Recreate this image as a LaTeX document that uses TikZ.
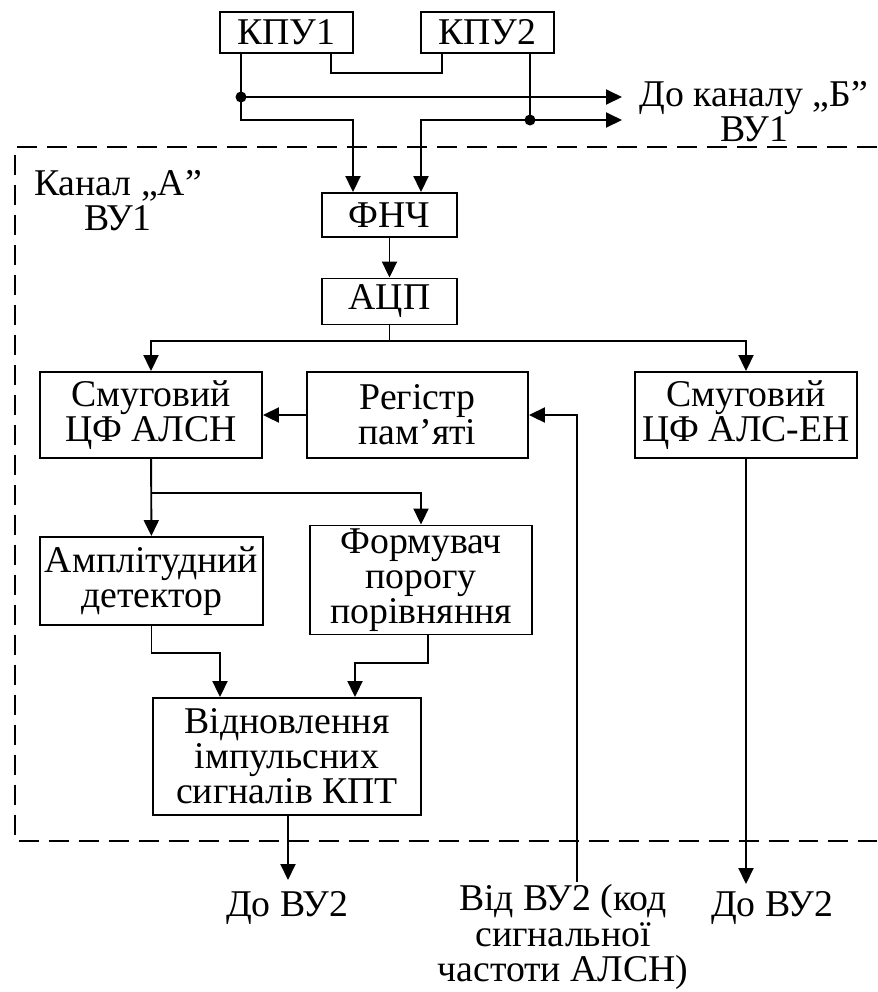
\documentclass[tikz,border=0pt]{standalone}
\usepackage{fontspec}
\setmainfont{Liberation Serif}
\newfontfamily\shryft{Liberation Serif}
\usetikzlibrary{arrows.meta}
\begin{document}
\begin{tikzpicture}[x=0.02cm,y=-0.02cm]

	\tikzset{
	  every node/.style={font=\shryft\fontsize{21.5}{20}\selectfont},
	  blok/.style={draw, line width=1.1pt, align=center, inner sep=0pt},
	  liniya/.style={line width=1.1pt},
	  strilka/.style={liniya, -{Triangle[length=0.32cm,width=0.3cm]}},
	  napys/.style={align=center, inner sep=0pt},
	}
	\useasboundingbox (0,0) rectangle (877,992);
	% bloky
	\node[blok, minimum width=2.66cm, minimum height=0.82cm] (kpu1) at (286.5,32.5) {КПУ1};
	\node[blok, minimum width=2.66cm, minimum height=0.82cm] (kpu2) at (487.5,32.5) {КПУ2};
	\node[blok, minimum width=2.7cm, minimum height=0.88cm] (fnch) at (389.5,215) {ФНЧ};
	\node[blok, minimum width=2.7cm, minimum height=0.92cm] (acp) at (389.5,301.5) {АЦП};
	\node[blok, minimum width=4.44cm, minimum height=1.72cm] (smug1) at (151,415) {Смуговий\\ЦФ АЛСН};
	\node[blok, minimum width=4.42cm, minimum height=1.72cm] (reg) at (417.5,415) {Регістр\\пам’яті};
	\node[blok, minimum width=4.44cm, minimum height=1.72cm] (smug2) at (746,415) {Смуговий\\ЦФ АЛС-ЕН};
	\node[blok, minimum width=4.46cm, minimum height=1.76cm] (ampl) at (151.5,581) {Амплітудний\\детектор};
	\node[blok, minimum width=4.44cm, minimum height=2.18cm] (form) at (421,580) {Формувач\\порогу\\порівняння};
	\node[blok, minimum width=5.36cm, minimum height=2.34cm] (vidn) at (287,756.5) {Відновлення\\імпульсних\\сигналів КПТ};
	% napysy
	\node[napys] (kanb) at (754,112) {До каналу „Б”\\ВУ1};
	\node[napys] (kana) at (118,201) {Канал „А”\\ВУ1};
	\node[napys] (vyh1) at (287,908) {До ВУ2};
	\node[napys] (vyh2) at (772,908) {До ВУ2};
	\node[napys] (vhid) at (563,937) {Від ВУ2 (код\\сигнальної\\частоти АЛСН)};
	% kanal A
	\draw[liniya, dash pattern=on 0.4cm off 0.2cm] (877,147) -- (15,147) -- (15,841) -- (877,841);
	% tochky
	\coordinate (b1) at (331,73);
	\coordinate (b2) at (442,73);
	\coordinate (d1) at (241,97);
	\coordinate (d2) at (530,120);
	\coordinate (f1) at (353,120);
	\coordinate (f2) at (421,120);
	\coordinate (t1) at (622,97);
	\coordinate (t2) at (622,120);
	\coordinate (s1) at (389.5,341);
	\coordinate (s2) at (151,493);
	\coordinate (s3) at (220,653);
	\coordinate (s4) at (355,663);
	\coordinate (s5) at (428,663);
	\coordinate (in1) at (577,882);
	\coordinate (o1) at (288,880);
	\coordinate (o2) at (746,884);
	% zv'yazky
	\draw[liniya] (kpu1.south -| b1) -- (b1) -- (b2) -- (kpu2.south -| b2);
	\draw[strilka] (kpu1.south -| d1) |- (f1) -- (fnch.north -| f1);
	\draw[strilka] (d1) -- (t1);
	\draw[liniya] (kpu2.south -| d2) -- (d2);
	\draw[strilka] (d2) -- (t2);
	\draw[strilka] (d2) -- (f2) -- (fnch.north -| f2);
	\fill (d1) circle (0.11cm);
	\fill (d2) circle (0.11cm);
	\draw[strilka] (fnch) -- (acp);
	\draw[liniya] (acp.south) -- (s1);
	\draw[strilka] (s1) -| (smug1.north);
	\draw[strilka] (s1) -| (smug2.north);
	\draw[strilka] (reg) -- (smug1);
	\draw[strilka] (in1) |- (reg.east);
	\draw[strilka] (smug1) -- (ampl);
	\draw[strilka] (s2) -| (form.north);
	\draw[strilka] (ampl.south) |- (s3) -- (vidn.north -| s3);
	\draw[strilka] (form.south -| s5) -- (s5) -- (s4) -- (vidn.north -| s4);
	\draw[strilka] (vidn.south -| o1) -- (o1);
	\draw[strilka] (smug2.south) -- (o2);

\end{tikzpicture}
\end{document}
